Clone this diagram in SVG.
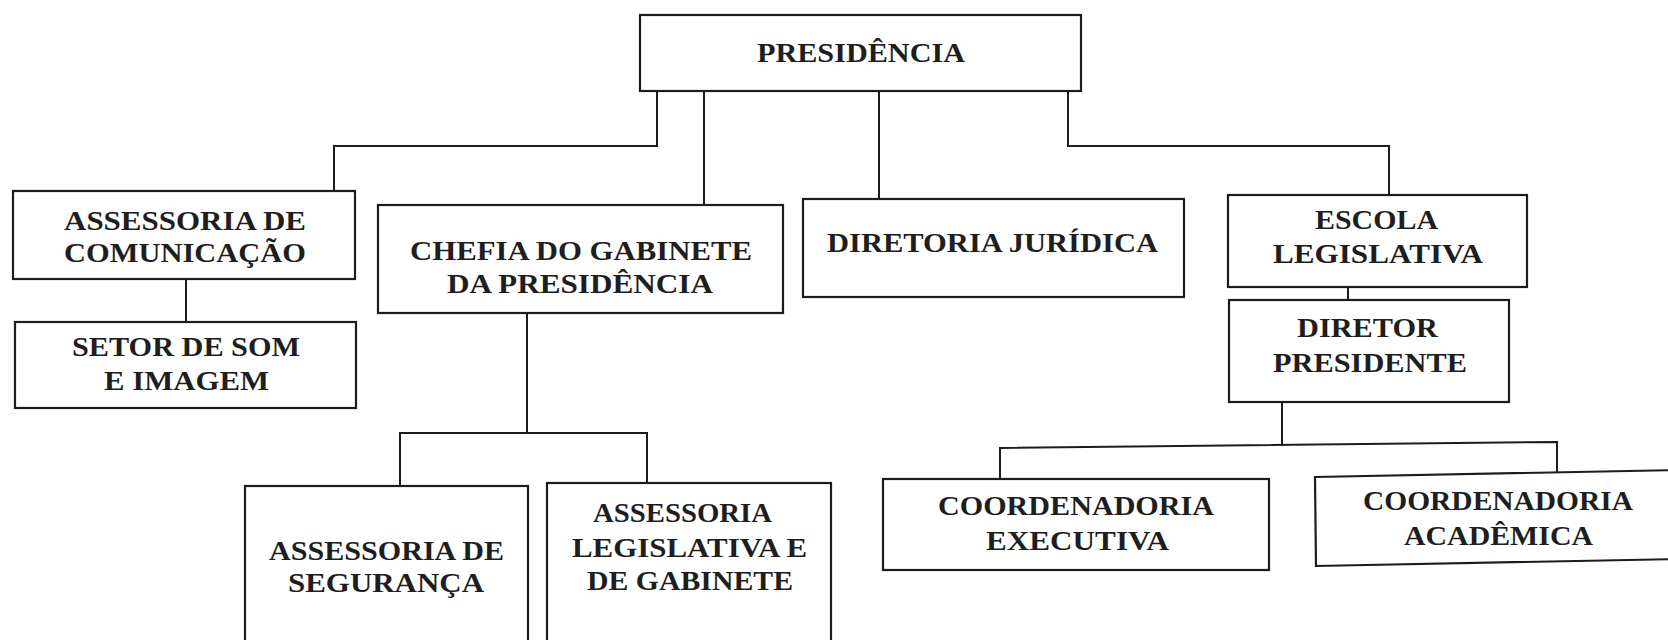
<svg xmlns="http://www.w3.org/2000/svg" width="1668" height="640" viewBox="0 0 1668 640">
<style>
.box{fill:#fff;stroke:#1c1c1c;stroke-width:2.2}
.lbl{font-family:"Liberation Serif","Times New Roman",serif;font-weight:bold;font-size:27px;fill:#1e1e1e}
.con{fill:none;stroke:#1c1c1c;stroke-width:2}
</style>
<rect width="1668" height="640" fill="#fff"/>
<g id="connectors">
<path class="con" d="M657,91 V146 H334 V191"/>
<path class="con" d="M704,91 V205"/>
<path class="con" d="M879,91 V199"/>
<path class="con" d="M1068,90 V146 H1389 V195"/>
<path class="con" d="M186,279 V322"/>
<path class="con" d="M527,313 V433"/>
<path class="con" d="M400,486 V433 H647 V483"/>
<path class="con" d="M1348,287 V300"/>
<path class="con" d="M1282,402 V446"/>
<path class="con" d="M1000,479 V448 L1557,442 V472"/>
</g>
<g id="presidencia">
<rect class="box" x="640" y="15" width="441" height="76"/>
<text class="lbl" x="757" y="62" textLength="208" lengthAdjust="spacingAndGlyphs">PRESIDÊNCIA</text>
</g>
<g id="assessoria-comunicacao">
<rect class="box" x="13" y="191" width="342" height="88"/>
<text class="lbl" x="64" y="230" textLength="242" lengthAdjust="spacingAndGlyphs">ASSESSORIA DE</text>
<text class="lbl" x="64" y="262" textLength="242" lengthAdjust="spacingAndGlyphs">COMUNICAÇÃO</text>
</g>
<g id="setor-som-imagem">
<rect class="box" x="15" y="322" width="341" height="86"/>
<text class="lbl" x="72" y="356" textLength="228" lengthAdjust="spacingAndGlyphs">SETOR DE SOM</text>
<text class="lbl" x="104" y="390" textLength="165" lengthAdjust="spacingAndGlyphs">E IMAGEM</text>
</g>
<g id="chefia-gabinete">
<rect class="box" x="378" y="205" width="405" height="108"/>
<text class="lbl" x="410" y="260" textLength="342" lengthAdjust="spacingAndGlyphs">CHEFIA DO GABINETE</text>
<text class="lbl" x="447" y="293" textLength="266" lengthAdjust="spacingAndGlyphs">DA PRESIDÊNCIA</text>
</g>
<g id="diretoria-juridica">
<rect class="box" x="803" y="199" width="381" height="98"/>
<text class="lbl" x="827" y="252" textLength="331" lengthAdjust="spacingAndGlyphs">DIRETORIA JURÍDICA</text>
</g>
<g id="escola-legislativa">
<rect class="box" x="1228" y="195" width="299" height="92"/>
<text class="lbl" x="1315" y="229" textLength="123" lengthAdjust="spacingAndGlyphs">ESCOLA</text>
<text class="lbl" x="1273" y="263" textLength="210" lengthAdjust="spacingAndGlyphs">LEGISLATIVA</text>
</g>
<g id="diretor-presidente">
<rect class="box" x="1229" y="300" width="280" height="102"/>
<text class="lbl" x="1297" y="337" textLength="141" lengthAdjust="spacingAndGlyphs">DIRETOR</text>
<text class="lbl" x="1273" y="372" textLength="194" lengthAdjust="spacingAndGlyphs">PRESIDENTE</text>
</g>
<g id="coordenadoria-executiva">
<rect class="box" x="883" y="479" width="386" height="91"/>
<text class="lbl" x="938" y="515" textLength="276" lengthAdjust="spacingAndGlyphs">COORDENADORIA</text>
<text class="lbl" x="986" y="550" textLength="183" lengthAdjust="spacingAndGlyphs">EXECUTIVA</text>
</g>
<g id="coordenadoria-academica">
<polygon class="box" points="1315,477 1680,470 1680,559 1316,566"/>
<text class="lbl" x="1363" y="510" textLength="270" lengthAdjust="spacingAndGlyphs">COORDENADORIA</text>
<text class="lbl" x="1404" y="545" textLength="189" lengthAdjust="spacingAndGlyphs">ACADÊMICA</text>
</g>
<g id="assessoria-seguranca">
<rect class="box" x="245" y="486" width="283" height="170"/>
<text class="lbl" x="269" y="560" textLength="235" lengthAdjust="spacingAndGlyphs">ASSESSORIA DE</text>
<text class="lbl" x="288" y="592" textLength="196" lengthAdjust="spacingAndGlyphs">SEGURANÇA</text>
</g>
<g id="assessoria-legislativa">
<rect class="box" x="547" y="483" width="284" height="170"/>
<text class="lbl" x="593" y="522" textLength="179" lengthAdjust="spacingAndGlyphs">ASSESSORIA</text>
<text class="lbl" x="572" y="557" textLength="235" lengthAdjust="spacingAndGlyphs">LEGISLATIVA E</text>
<text class="lbl" x="587" y="590" textLength="206" lengthAdjust="spacingAndGlyphs">DE GABINETE</text>
</g>
</svg>
